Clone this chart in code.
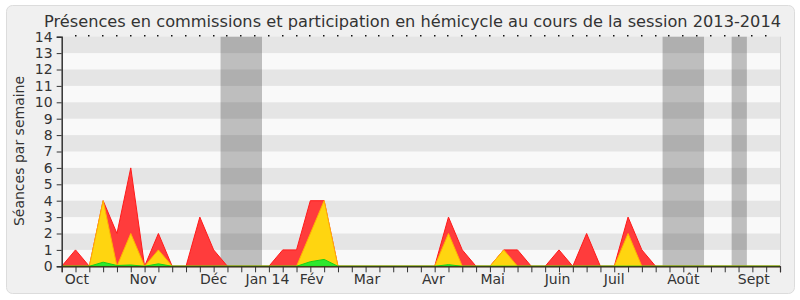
<!DOCTYPE html>
<html>
<head>
<meta charset="utf-8">
<script src="https://cdn.jsdelivr.net/npm/d3@7"></script>
<style>
  body { margin: 0; background: #ffffff; }
  text { font-family: 'DejaVu Sans', sans-serif; fill: #333; }
</style>
</head>
<body>
<div id="chart"></div>
<script>
// weekly values, week 0 = start of the session
const weeks = d3.range(0, 53)
const totalSeances = [0, 1, 0, 4, 2, 6, 0, 2, 0, 0, 3, 1, 0, 0, 0, 0, 1, 1, 4, 4,
  0, 0, 0, 0, 0, 0, 0, 0, 3, 1, 0, 0, 1, 1, 0, 0, 1, 0, 2, 0,
  0, 3, 1, 0, 0, 0, 0, 0, 0, 0, 0, 0, 0]
const hemicycle = [0, 0, 0, 4, 0, 2, 0, 1, 0, 0, 0, 0, 0, 0, 0, 0, 0, 0, 2, 4,
  0, 0, 0, 0, 0, 0, 0, 0, 2, 0, 0, 0, 1, 0, 0, 0, 0, 0, 0, 0,
  0, 2, 0, 0, 0, 0, 0, 0, 0, 0, 0, 0, 0]
const commissions = [0, 0, 0, 0.25, 0.05, 0.08, 0, 0.15, 0, 0, 0, 0, 0, 0, 0, 0, 0, 0, 0.28, 0.42,
  0, 0, 0, 0, 0, 0, 0, 0, 0.1, 0, 0, 0, 0, 0, 0, 0, 0, 0, 0, 0,
  0, 0, 0, 0, 0, 0, 0, 0, 0, 0, 0, 0, 0]

// holidays (in weeks)
const breakStart = [11.5, 43.5, 48.5]
const breakEnd = [14.5, 46.5, 49.6]

const monthLabels = ['Oct', 'Nov', 'Déc', 'Jan 14', 'Fév', 'Mar', 'Avr', 'Mai', 'Juin', 'Juil', 'Août', 'Sept']
const monthWeeks = [1.1, 5.9, 11.0, 14.9, 18.1, 22.1, 26.9, 31.2, 35.9, 40.0, 45.0, 50.1]

const yTicks = d3.range(0, 15)

const width = 800
const height = 300

const svg = d3
  .select('#chart')
  .append('svg')
  .attr('width', width)
  .attr('height', height)

// panel
svg
  .append('rect')
  .attr('x', 6.5)
  .attr('y', 5.5)
  .attr('width', 788)
  .attr('height', 288)
  .attr('rx', 6)
  .attr('fill', '#f0f0f0')
  .attr('stroke', '#dcdcdc')

const xPositionScale = d3
  .scaleLinear()
  .domain([0, 52])
  .range([61.7, 780])

const yPositionScale = d3
  .scaleLinear()
  .domain([0, 14])
  .range([266.3, 36.7])

const plotW = xPositionScale(52) - xPositionScale(0)
const plotH = yPositionScale(0) - yPositionScale(14)

// plot background
svg
  .append('rect')
  .attr('x', xPositionScale(0))
  .attr('y', yPositionScale(14))
  .attr('width', plotW)
  .attr('height', plotH)
  .attr('fill', '#f9f9f9')

// grey bands for holidays
svg
  .selectAll('.break')
  .data(breakStart)
  .enter()
  .append('rect')
  .attr('class', 'break')
  .attr('x', d => xPositionScale(d))
  .attr('y', yPositionScale(14))
  .attr('width', (d, i) => xPositionScale(breakEnd[i]) - xPositionScale(d))
  .attr('height', plotH)
  .attr('fill', '#bebebe')

// horizontal stripes
svg
  .selectAll('.stripe')
  .data(yTicks.filter(d => d % 2 === 1))
  .enter()
  .append('rect')
  .attr('class', 'stripe')
  .attr('x', xPositionScale(0))
  .attr('y', d => yPositionScale(d + 1))
  .attr('width', plotW)
  .attr('height', d => yPositionScale(d) - yPositionScale(d + 1))
  .attr('fill', 'rgba(0,0,0,0.078)')

// right edge
svg
  .append('line')
  .attr('x1', xPositionScale(52) + 0.5)
  .attr('x2', xPositionScale(52) + 0.5)
  .attr('y1', yPositionScale(14))
  .attr('y2', yPositionScale(0))
  .attr('stroke', '#d4d4d4')

// areas
function areaFor (values) {
  return d3
    .area()
    .x(d => xPositionScale(d))
    .y0(yPositionScale(0))
    .y1(d => yPositionScale(values[d]))
}

svg
  .append('path')
  .datum(weeks)
  .attr('d', areaFor(totalSeances))
  .attr('fill', '#ff3c3c')
  .attr('stroke', '#ff1a1a')
  .attr('stroke-width', 1)

svg
  .append('path')
  .datum(weeks)
  .attr('d', areaFor(hemicycle))
  .attr('fill', '#ffd510')
  .attr('stroke', '#ffb400')
  .attr('stroke-width', 1)

svg
  .append('path')
  .datum(weeks)
  .attr('d', areaFor(commissions))
  .attr('fill', '#2ee82e')
  .attr('stroke', '#18d018')
  .attr('stroke-width', 1)

// top dots
svg
  .selectAll('.topdot')
  .data(d3.range(1, 52))
  .enter()
  .append('rect')
  .attr('class', 'topdot')
  .attr('x', d => Math.round(xPositionScale(d)) - 1)
  .attr('y', 35)
  .attr('width', 1.5)
  .attr('height', 1.5)
  .attr('fill', '#111')

/* Set up axes */
const xAxis = d3
  .axisBottom(xPositionScale)
  .tickValues(weeks)
  .tickSize(6)
  .tickFormat('')
const xAxisG = svg
  .append('g')
  .attr('class', 'axis x-axis')
  .attr('transform', 'translate(0,' + yPositionScale(0) + ')')
  .call(xAxis)
xAxisG.select('.domain').attr('stroke', '#3a1a14').attr('stroke-width', 1.2)
xAxisG.selectAll('.tick line').attr('stroke', '#333')

svg
  .selectAll('.month')
  .data(monthLabels)
  .enter()
  .append('text')
  .attr('class', 'month')
  .attr('x', (d, i) => xPositionScale(monthWeeks[i]))
  .attr('y', 283.5)
  .attr('text-anchor', 'middle')
  .attr('font-size', 14)
  .text(d => d)

const yAxis = d3
  .axisLeft(yPositionScale)
  .tickValues(yTicks)
  .tickSize(5)
  .tickPadding(4)
const yAxisG = svg
  .append('g')
  .attr('class', 'axis y-axis')
  .attr('transform', 'translate(' + xPositionScale(0) + ',0)')
  .call(yAxis)
yAxisG.select('.domain').attr('stroke', '#333').attr('stroke-width', 1.5)
yAxisG.selectAll('.tick line').attr('stroke', '#333')
yAxisG
  .selectAll('.tick text')
  .attr('font-family', "'DejaVu Sans', sans-serif")
  .attr('font-size', 14)
  .attr('fill', '#333')

// title
svg
  .append('text')
  .attr('x', 44)
  .attr('y', 27)
  .attr('font-size', 16)
  .attr('textLength', 737)
  .attr('lengthAdjust', 'spacingAndGlyphs')
  .text('Présences en commissions et participation en hémicycle au cours de la session 2013-2014')

svg
  .append('text')
  .attr('transform', 'translate(24,151) rotate(-90)')
  .attr('text-anchor', 'middle')
  .attr('font-size', 14)
  .text('Séances par semaine')
</script>
</body>
</html>
